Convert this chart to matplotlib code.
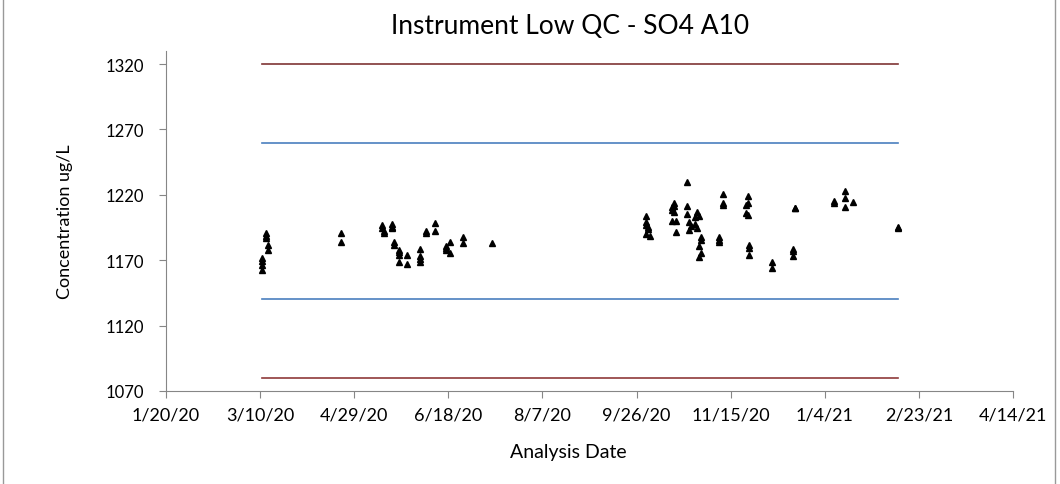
import numpy as np
import pandas as pd
import matplotlib
matplotlib.use("Agg")
from matplotlib import pyplot as plt
from matplotlib.lines import Line2D

plt.rcParams['font.family'] = ['Lato', 'DejaVu Sans']

# QC results: analysis date and measured concentration (ug/L)
dates = [
    '2020-03-11', '2020-03-11', '2020-03-11', '2020-03-11',
    '2020-03-13', '2020-03-13', '2020-03-13', '2020-03-14', '2020-03-14',
    '2020-04-22', '2020-04-22',
    '2020-05-14', '2020-05-14', '2020-05-15', '2020-05-15',
    '2020-05-19', '2020-05-19', '2020-05-19',
    '2020-05-20', '2020-05-20',
    '2020-05-23', '2020-05-23', '2020-05-23', '2020-05-23',
    '2020-05-27', '2020-05-27',
    '2020-06-03', '2020-06-03', '2020-06-03', '2020-06-03',
    '2020-06-06', '2020-06-06',
    '2020-06-11', '2020-06-11',
    '2020-06-17', '2020-06-17', '2020-06-17', '2020-06-19', '2020-06-19',
    '2020-06-26', '2020-06-26',
    '2020-07-11',
    '2020-10-01', '2020-10-01', '2020-10-01', '2020-10-02', '2020-10-02',
    '2020-10-01', '2020-10-03',
    '2020-10-16', '2020-10-16', '2020-10-15', '2020-10-15', '2020-10-16',
    '2020-10-15', '2020-10-17', '2020-10-17',
    '2020-10-23', '2020-10-23', '2020-10-23',
    '2020-10-28', '2020-10-29', '2020-10-27',
    '2020-10-24', '2020-10-25', '2020-10-27', '2020-10-28', '2020-10-24',
    '2020-10-30', '2020-10-30', '2020-10-29', '2020-10-30', '2020-10-29',
    '2020-11-11', '2020-11-11', '2020-11-11',
    '2020-11-09', '2020-11-09', '2020-11-09',
    '2020-11-24', '2020-11-24', '2020-11-23', '2020-11-23', '2020-11-24',
    '2020-11-25', '2020-11-25', '2020-11-25',
    '2020-12-07', '2020-12-07',
    '2020-12-18', '2020-12-18', '2020-12-18',
    '2020-12-19', '2020-12-19',
    '2021-01-09', '2021-01-09',
    '2021-01-15', '2021-01-15', '2021-01-15', '2021-01-19',
    '2021-02-12', '2021-02-12',
]
values = [
    1171.5, 1169.4, 1166.3, 1162.5,
    1190.8, 1188.7, 1187.0, 1181.6, 1177.8,
    1190.6, 1183.8,
    1196.9, 1194.9, 1192.6, 1190.6,
    1197.7, 1195.6, 1194.4,
    1184.1, 1181.6,
    1178.0, 1176.0, 1174.0, 1168.9,
    1173.7, 1166.8,
    1178.6, 1173.2, 1171.2, 1168.9,
    1192.6, 1190.6,
    1198.2, 1192.6,
    1180.6, 1179.0, 1178.0, 1184.1, 1175.3,
    1187.4, 1183.1,
    1183.1,
    1203.5, 1198.9, 1196.9, 1195.1, 1193.9,
    1190.2, 1188.7,
    1213.5, 1211.7, 1210.5, 1208.4, 1207.1,
    1200.2, 1200.2, 1191.3,
    1230.0, 1211.5, 1205.6,
    1206.6, 1204.1, 1202.8,
    1198.9, 1196.3, 1197.6, 1194.5, 1193.1,
    1187.5, 1185.7, 1181.1, 1175.3, 1172.2,
    1220.4, 1214.0, 1212.0,
    1187.5, 1185.7, 1183.7,
    1219.2, 1214.0, 1212.0, 1206.2, 1204.3,
    1181.9, 1179.3, 1174.2,
    1168.9, 1163.8,
    1178.6, 1177.3, 1173.2,
    1210.0, 1209.6,
    1215.0, 1213.5,
    1223.1, 1217.5, 1210.4, 1214.2,
    1195.6, 1194.9,
]

# control limits
ucl, lcl = 1320, 1080
uwl, lwl = 1260, 1140

y_ticks = [1070, 1120, 1170, 1220, 1270, 1320]
x_start = pd.Timestamp('2020-01-20')
x_end = pd.Timestamp('2021-04-14')

d = pd.to_datetime(dates)

fig = plt.figure(figsize=(10.6, 4.85), dpi=100)
ax = fig.add_axes([166 / 1060, 1 - 392 / 485, (1013 - 166) / 1060, (392 - 52) / 485])

first, last = d.min(), d.max()
ax.plot([first, last], [ucl, ucl], color='#7f3535', lw=1.2)
ax.plot([first, last], [lcl, lcl], color='#8f3a3a', lw=1.2)
ax.plot([first, last], [uwl, uwl], color='#4a7fbf', lw=1.2)
ax.plot([first, last], [lwl, lwl], color='#4a7fbf', lw=1.2)

ax.plot(d, values, linestyle='none', marker='^', ms=4.5, color='black', zorder=3)

ax.set_ylim(1070, 1330)
ax.set_yticks(y_ticks)
ax.set_xlim(x_start, x_end)
ticks = pd.date_range(x_start, x_end, freq='50D')
ax.set_xticks(ticks)
ax.set_xticklabels([f'{t.month}/{t.day}/{t.strftime("%y")}' for t in ticks])

for s in ['top', 'right']:
    ax.spines[s].set_visible(False)
for s in ['left', 'bottom']:
    ax.spines[s].set_color('#868686')
ax.tick_params(axis='both', colors='#868686', labelcolor='black',
               length=5, direction='out')
ax.tick_params(axis='y', pad=11, labelsize=12)
ax.tick_params(axis='x', pad=6, labelsize=13)

fig.text(570 / 1060, 1 - 27 / 485, 'Instrument Low QC - SO4 A10', ha='center',
         va='center', fontsize=19)
fig.text(568 / 1060, 1 - 453 / 485, 'Analysis Date', ha='center', va='center',
         fontsize=14)
fig.text(65 / 1060, 1 - 222 / 485, 'Concentration ug/L', ha='center', va='center',
         rotation=90, fontsize=13)

# frame edges at the left and right of the chart
fig.add_artist(Line2D([3 / 1060, 3 / 1060], [0, 1], color='#999999', lw=1))
fig.add_artist(Line2D([1055 / 1060, 1055 / 1060], [0, 1], color='#999999', lw=1))

fig.savefig('out.png', dpi=100)
